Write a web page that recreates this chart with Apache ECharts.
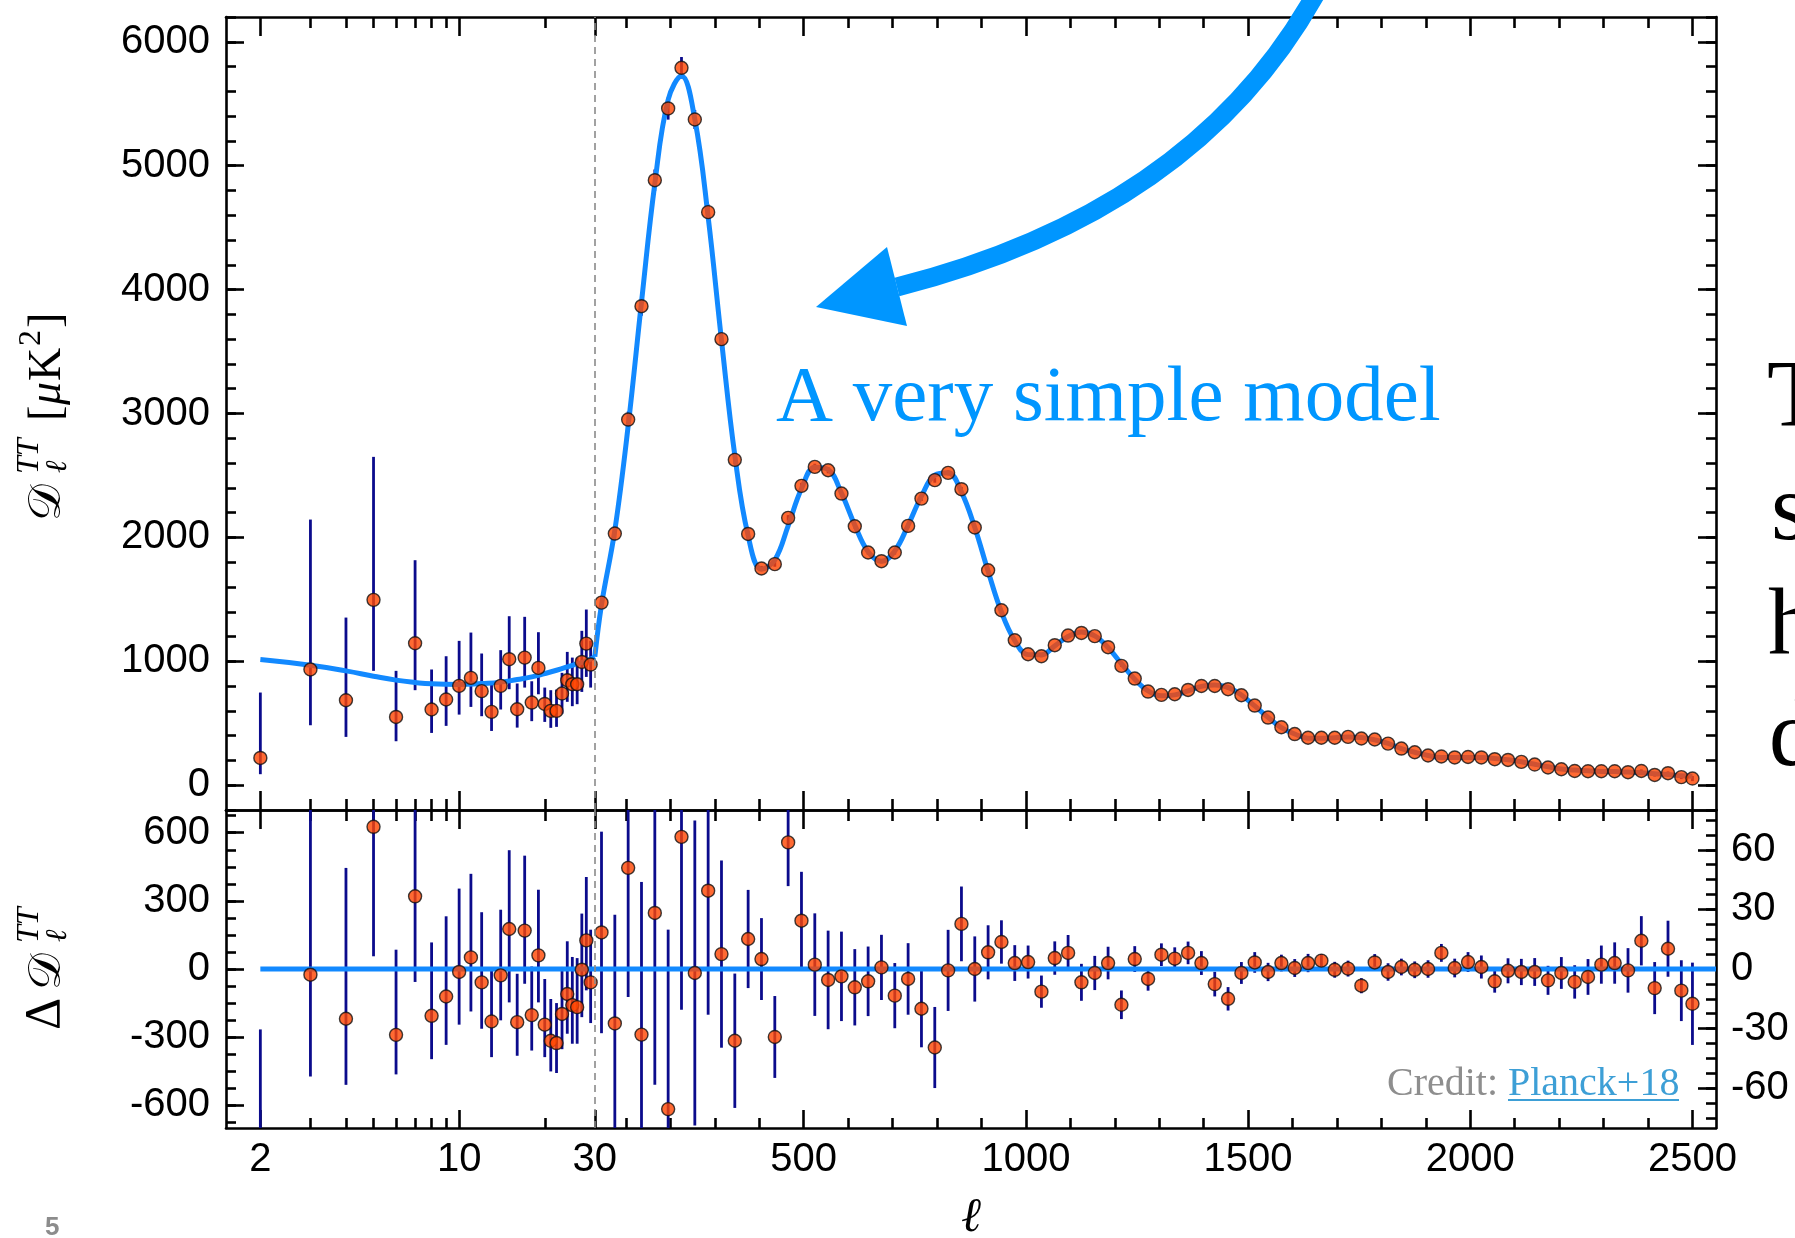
<!DOCTYPE html>
<html><head><meta charset="utf-8">
<script src="https://cdn.jsdelivr.net/npm/echarts@6/dist/echarts.min.js"></script>
<style>html,body{margin:0;padding:0;background:#fff;overflow:hidden}#c{width:1795px;height:1238px}</style>
</head><body><div id="c"></div><script>
// ---------------- DATA ----------------
// low-ell (log part of the axis)
const lowL   = [2,3,4,5,6,7,8,9,10,11,12,13,14,15,16,17,18,19,20,21,22,23,24,25,26,27,28,29];
const lowD   = [220,934,686,1496,551,1146,611,692,802,866,759,592,802,1017,613,1030,667,947,656,600,600,740,847,815,815,995,1143,974];
const lowLo  = [89,484,390,923,355,767,422,479,570,632,557,438,611,775,465,788,517,734,511,463,471,578,673,638,654,753,874,788];
const lowHi  = [748,2144,1353,2650,923,1816,934,1041,1165,1232,1063,821,1090,1364,821,1359,839,1235,788,767,772,907,1076,1030,1030,1246,1418,1165];
const lowRes   = [-794,-25,-219,626,-290,320,-206,-121,-13,51,-59,-231,-28,176,-234,169,-203,60,-245,-316,-326,-198,-110,-159,-168,-3,126,-59];
const lowResLo = [-925,-473,-510,56,-464,-57,-397,-334,-245,-187,-263,-388,-226,-147,-382,-65,-359,-147,-388,-451,-458,-353,-285,-329,-329,-212,-94,-238];
const lowResHi = [-266,1176,445,1770,85,987,117,232,354,419,250,4,261,523,-21,499,11,349,-44,-132,-150,9,122,53,48,244,405,173];
// model curve at low ell
const modelLowL = [2,3,4,5,6,7,8,10,12,14,16,18,20,22,25,28,30];
const modelLowD = [1014,968,923,880,848,829,818,813,821,832,853,874,901,928,968,1003,1036];
// high-ell (linear part)
const highL = [45,75,105,135,165,195,225,255,285,315,345,375,405,435,465,495,525,555,585,615,645,675,705,735,765,795,825,855,885,915,945,975,1005,1035,1065,1095,1125,1155,1185,1215,1245,1275,1305,1335,1365,1395,1425,1455,1485,1515,1545,1575,1605,1635,1665,1695,1725,1755,1785,1815,1845,1875,1905,1935,1965,1995,2025,2055,2085,2115,2145,2175,2205,2235,2265,2295,2325,2355,2385,2415,2445,2475,2500];
const highD = [1474,2031,2951,3866,4883,5462,5790,5373,4625,3600,2626,2028,1749,1784,2158,2416,2569,2542,2354,2090,1878,1808,1878,2093,2313,2462,2521,2389,2080,1735,1412,1170,1057,1041,1130,1208,1229,1203,1114,963,861,756,729,734,769,801,801,775,726,643,546,468,413,383,383,383,390,377,369,336,296,266,240,232,224,228,224,210,204,188,167,143,129,115,113,113,113,105,115,83,97,65,54];
const modelJoinL = 30, modelJoinD = 1036;
const modelHighD = [1456,2058,2900,3899,4855,5532,5724,5375,4586,3592,2662,2013,1744,1818,2094,2392,2567,2548,2358,2099,1884,1807,1891,2098,2333,2502,2522,2366,2080,1727,1398,1167,1054,1052,1125,1200,1236,1205,1111,981,856,761,722,729,761,798,809,790,728,640,548,465,413,380,379,383,390,385,366,338,295,266,240,224,224,224,223,216,205,190,169,149,131,122,117,111,110,106,101,93,87,76,72];
const highRes = [18.4,-27.4,50.9,-33,28.2,-70.5,66.5,-2,39.4,7.5,-36.1,15.1,5,-34.2,63.7,24.3,2.2,-5.5,-3.7,-9.2,-6.2,0.8,-13.4,-5,-20,-39.5,-0.7,22.7,0,8.4,13.6,3,3.5,-11.4,5.5,8.1,-6.7,-2,3,-18,5,-5,7.2,5.2,8.1,3,-7.6,-15,-2,3.3,-1.5,3,0.5,3,4.2,-0.4,0.2,-8.4,3.3,-1.5,1,-0.4,0,8.1,0.5,3.5,1,-6.2,-0.9,-1.5,-1.5,-5.7,-2,-6.5,-4,2.2,3,-0.7,14.2,-9.6,10.2,-10.9,-17.5];
const highErr = [50.7,54.7,65,76.8,86.5,90.3,87,76.7,62.4,47.1,33.8,24.7,20.6,20.6,22,24.6,25.8,24.8,22.5,19.2,17.5,16.4,16.4,18,19.4,20.4,20.4,18.8,16.4,13.6,10.9,9,8.3,8.1,8.4,9,9.3,8.6,8.2,7.2,6.5,5.9,5.7,5.7,5.7,6,6.2,5.9,5.5,5.2,4.6,4.2,4.5,4.6,3.3,4,4,3.8,4.2,4.4,4.2,4.2,4.4,4.5,4.7,5,5.8,5.7,6.3,6.6,7,7.3,8,8.4,9,9.6,10.4,11.2,12.4,13.1,14.1,15.3,20.7];
const residualModelL = [2, 2553];
const residualModelV = [0, 0];
// axis ticks / labels
const xMajorL = [2,10,30,500,1000,1500,2000,2500];
const xTickLabels = ['2','10','30','500','1000','1500','2000','2500'];
const xMinorL = [3,4,5,6,7,8,9,20,100,200,300,400,600,700,800,900,1100,1200,1300,1400,1600,1700,1800,1900,2100,2200,2300,2400];
const yUpMajor = [0,1000,2000,3000,4000,5000,6000];
const yUpLabels = ['0','1000','2000','3000','4000','5000','6000'];
const yLowLeftMajor = [-600,-300,0,300,600];
const yLowLeftLabels = ['-600','-300','0','300','600'];
const yLowRightMajor = [-60,-30,0,30,60];
const yLowRightLabels = ['-60','-30','0','30','60'];

// ---------------- AXIS TRANSFORM (log below 30, linear above) ----------------
const LOG_SCALE = 640;
function u(l){ return l >= 30 ? l : 30 + Math.log10(l/30)*LOG_SCALE; }
const X_MIN = -800, X_MAX = 2553;
const UP_MIN = -200, UP_MAX = 6200, LL_MIN = -700, LL_MAX = 700, LR_MIN = -80, LR_MAX = 80;
function steps(a, b, s){ const r=[]; for(let v=a; v<=b+1e-9; v+=s) r.push(+v.toFixed(4)); return r; }

const LINE = {color:'#000', width:2.6};
const LABEL_FONT = '"Liberation Sans", Arial, Helvetica, sans-serif';
const SERIF = '"Liberation Serif", "Times New Roman", serif';
const ERR = '#0b0b8c', MODEL = '#1289ff', PT = '#ff4500', ARROW = '#0096ff';

function axis(grid, pos, min, max, ticks, len, withLine, label){
  const a = {type:'value', gridIndex:grid, position:pos, min:min, max:max,
    splitLine:{show:false}, minorTick:{show:false},
    axisLine:{show:withLine, onZero:false, lineStyle:LINE},
    axisTick:{show:true, inside:true, length:len, customValues:ticks, lineStyle:LINE},
    axisLabel:{show:false}};
  if (label) a.axisLabel = Object.assign({show:true, customValues:ticks, color:'#000', fontSize:40, fontFamily:LABEL_FONT}, label);
  return a;
}
function lookup(vals, labels, ufn){
  return function(v){ for (let i=0;i<vals.length;i++) if (Math.abs(ufn(vals[i])-v)<1e-6) return labels[i]; return ''; };
}
const ident = v => v;

const xMaj = xMajorL.map(u), xMin = xMinorL.map(u);
const xAxes = [
  axis(0,'bottom',X_MIN,X_MAX,xMaj,19,true,null),
  axis(0,'bottom',X_MIN,X_MAX,xMin,11,false,null),
  axis(0,'top',X_MIN,X_MAX,xMaj,19,true,null),
  axis(0,'top',X_MIN,X_MAX,xMin,11,false,null),
  axis(1,'bottom',X_MIN,X_MAX,xMaj,18,true,{margin:12, formatter:lookup(xMajorL, xTickLabels, u)}),
  axis(1,'bottom',X_MIN,X_MAX,xMin,10,false,null),
  axis(1,'top',X_MIN,X_MAX,xMaj,19,true,null),
  axis(1,'top',X_MIN,X_MAX,xMin,11,false,null)
];
xAxes[4].name = 'ℓ';
xAxes[4].nameLocation = 'middle';
xAxes[4].nameGap = 66;
xAxes[4].nameTextStyle = {fontFamily:SERIF, fontStyle:'italic', fontSize:48, color:'#000'};

const upMinor = steps(UP_MIN, UP_MAX, 200);
const llMinor = steps(-675, 675, 75);
const lrMinor = steps(-75, 75, 7.5);
const yAxes = [
  axis(0,'left',UP_MIN,UP_MAX,yUpMajor,18,true,{margin:16, formatter:lookup(yUpMajor, yUpLabels, ident)}),
  axis(0,'left',UP_MIN,UP_MAX,upMinor,10,false,null),
  axis(0,'right',UP_MIN,UP_MAX,yUpMajor,18,true,null),
  axis(0,'right',UP_MIN,UP_MAX,upMinor,10,false,null),
  axis(1,'left',LL_MIN,LL_MAX,yLowLeftMajor,18,true,{margin:16, formatter:lookup(yLowLeftMajor, yLowLeftLabels, ident)}),
  axis(1,'left',LL_MIN,LL_MAX,llMinor,10,false,null),
  axis(1,'right',LR_MIN,LR_MAX,yLowRightMajor,18,true,{margin:15, formatter:lookup(yLowRightMajor, yLowRightLabels, ident)}),
  axis(1,'right',LR_MIN,LR_MAX,lrMinor,10,false,null)
];

function errRender(params, api){
  const cs = params.coordSys;
  const x = api.value(0);
  const p1 = api.coord([x, api.value(1)]);
  const p2 = api.coord([x, api.value(2)]);
  const top = cs.y, bot = cs.y + cs.height;
  const y1 = Math.min(Math.max(p1[1], top), bot), y2 = Math.min(Math.max(p2[1], top), bot);
  if (Math.abs(y1-y2) < 0.01) return null;
  return {type:'line', shape:{x1:p1[0], y1:y1, x2:p1[0], y2:y2}, style:{stroke:ERR, lineWidth:2.8}};
}
const dashLine = {silent:true, symbol:['none','none'], label:{show:false},
  lineStyle:{type:[7,5], color:'#8a8a8a', width:1.6}, data:[{xAxis:u(30)}]};
const ptStyle = {color:PT, borderColor:'#111', borderWidth:1.4};
const PT_SIZE = 13;

const series = [
  // upper panel
  {type:'custom', xAxisIndex:0, yAxisIndex:0, z:2, renderItem:errRender, encode:{x:0,y:[1,2]},
   data: lowL.map((l,i)=>[u(l), lowLo[i], lowHi[i]]).concat(highL.map((l,i)=>[u(l), highD[i]-highErr[i], highD[i]+highErr[i]]))},
  {type:'line', xAxisIndex:0, yAxisIndex:0, z:3, smooth:0.5, showSymbol:false, symbol:'none',
   lineStyle:{color:MODEL, width:5}, data: modelLowL.map((l,i)=>[u(l), modelLowD[i]]), markLine:dashLine},
  {type:'line', xAxisIndex:0, yAxisIndex:0, z:3, smooth:0.4, showSymbol:false, symbol:'none',
   lineStyle:{color:MODEL, width:5}, data: [[u(modelJoinL), modelJoinD]].concat(highL.map((l,i)=>[u(l), modelHighD[i]]))},
  {type:'scatter', xAxisIndex:0, yAxisIndex:0, z:4, symbol:'circle', symbolSize:PT_SIZE, itemStyle:ptStyle,
   data: lowL.map((l,i)=>[u(l), lowD[i]]).concat(highL.map((l,i)=>[u(l), highD[i]]))},
  // lower panel
  {type:'custom', xAxisIndex:4, yAxisIndex:4, z:2, renderItem:errRender, encode:{x:0,y:[1,2]},
   data: lowL.map((l,i)=>[u(l), lowResLo[i], lowResHi[i]])},
  {type:'custom', xAxisIndex:4, yAxisIndex:6, z:2, renderItem:errRender, encode:{x:0,y:[1,2]},
   data: highL.map((l,i)=>[u(l), highRes[i]-highErr[i], highRes[i]+highErr[i]])},
  {type:'line', xAxisIndex:4, yAxisIndex:4, z:3, showSymbol:false, symbol:'none',
   lineStyle:{color:MODEL, width:5}, data: residualModelL.map((l,i)=>[u(l), residualModelV[i]]), markLine:dashLine},
  {type:'scatter', xAxisIndex:4, yAxisIndex:4, z:4, symbol:'circle', symbolSize:PT_SIZE, itemStyle:ptStyle, clip:true,
   data: lowL.map((l,i)=>[u(l), lowRes[i]])},
  {type:'scatter', xAxisIndex:4, yAxisIndex:6, z:4, symbol:'circle', symbolSize:PT_SIZE, itemStyle:ptStyle, clip:true,
   data: highL.map((l,i)=>[u(l), highRes[i]])}
];

function t(x, y, text, font, fill, extra){
  return Object.assign({type:'text', x:x, y:y, z:100, silent:true,
    style:{text:text, font:font, fill:fill||'#000', align:'left', verticalAlign:'middle'}}, extra||{});
}
const graphic = [
  {type:'bezierCurve', z:100, silent:true, shape:{x1:1320, y1:-14, cpx1:1200, cpy1:210, x2:897, y2:287},
   style:{stroke:ARROW, lineWidth:19, fill:'none'}},
  {type:'polygon', z:100, silent:true, shape:{points:[[816,307],[887,247],[907,326]]}, style:{fill:ARROW}},
  t(776, 399, 'A very simple model', '79px ' + SERIF, ARROW),
  t(1767, 401, 'T', '95px ' + SERIF, '#000'),
  t(1771, 514, 's', '95px ' + SERIF, '#000'),
  t(1768, 629, 'h', '95px ' + SERIF, '#000'),
  t(1769, 740, 'd', '95px ' + SERIF, '#000'),
  t(1387, 1084, 'Credit:', '40px ' + SERIF, '#8e8e8e'),
  t(1508, 1084, 'Planck+18', '40px ' + SERIF, '#3d9fd6'),
  {type:'line', z:100, silent:true, shape:{x1:1508, y1:1100, x2:1679, y2:1100}, style:{stroke:'#3d9fd6', lineWidth:2}},
  t(45, 1228, '5', 'bold 26px ' + LABEL_FONT, '#8c8c8c'),
  {type:'group', x:63, y:521, rotation:Math.PI/2, z:100, children:[
    t(0, -15, '𝒟', '46px "DejaVu Serif", "DejaVu Sans", serif'),
    t(47, -33, 'TT', 'italic 32px ' + SERIF),
    t(48, -5, 'ℓ', 'italic 30px ' + SERIF),
    t(100, -15, '[', '46px ' + SERIF),
    t(116, -15, 'μ', 'italic 46px ' + SERIF),
    t(140, -15, 'K', '46px ' + SERIF),
    t(175, -31, '2', '32px ' + SERIF),
    t(193, -15, ']', '46px ' + SERIF)
  ]},
  {type:'group', x:63, y:1030, rotation:Math.PI/2, z:100, children:[
    t(0, -17, 'Δ', '50px ' + SERIF),
    t(40, -15, '𝒟', '46px "DejaVu Serif", "DejaVu Sans", serif'),
    t(87, -33, 'TT', 'italic 32px ' + SERIF),
    t(88, -5, 'ℓ', 'italic 30px ' + SERIF)
  ]}
];

const chart = echarts.init(document.getElementById('c'), null, {renderer:'canvas'});
chart.setOption({
  animation:false,
  backgroundColor:'#fff',
  grid:[{left:226, right:79, top:17, height:793, outerBoundsMode:'none'},
        {left:226, right:79, top:810, height:318, outerBoundsMode:'none'}],
  xAxis:xAxes, yAxis:yAxes, series:series, graphic:graphic
});
</script></body></html>
